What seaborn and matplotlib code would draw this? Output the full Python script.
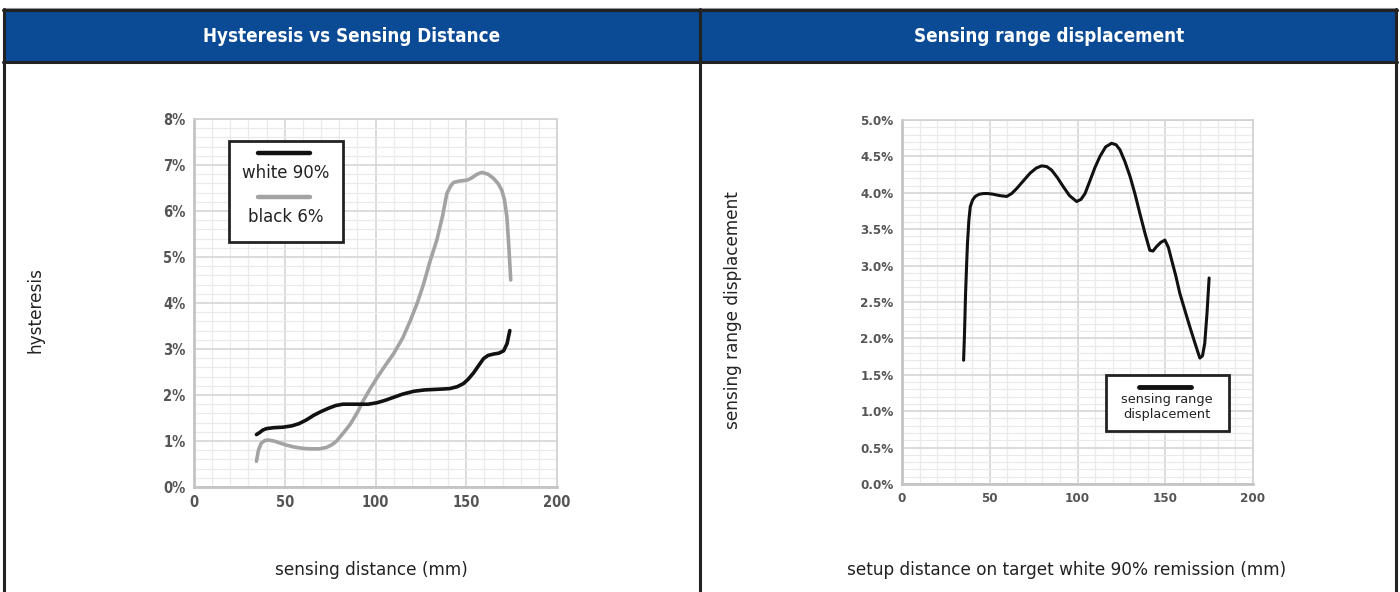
import numpy as np
import pandas as pd
import matplotlib
matplotlib.use("Agg")
import matplotlib.pyplot as plt
import seaborn as sns
from matplotlib.patches import Rectangle
from matplotlib.lines import Line2D
from matplotlib.ticker import MultipleLocator, FuncFormatter

# hysteresis vs sensing distance (mm, %)
white_x = [34.4, 36, 38, 40, 44, 49, 54, 58, 62, 66, 70, 74, 78, 82, 86, 91, 96, 100.6, 105, 110,
           115, 121, 127, 132, 137, 141, 145, 148.5, 151, 154, 157, 159.5, 162, 165, 168, 170.6, 172.5, 174]
white_y = [1.14, 1.18, 1.24, 1.27, 1.29, 1.30, 1.33, 1.38, 1.46, 1.56, 1.64, 1.71, 1.77, 1.80, 1.80, 1.80, 1.80, 1.83, 1.88, 1.95,
           2.02, 2.08, 2.11, 2.12, 2.13, 2.14, 2.18, 2.25, 2.34, 2.48, 2.65, 2.79, 2.86, 2.89, 2.91, 2.96, 3.12, 3.40]

black_x = [34.4, 35.5, 37, 39, 41, 44, 47, 51, 55, 60, 64, 69, 73, 76, 78.6, 82, 86, 90, 93, 97, 100.6,
           105, 110, 115, 119, 123, 126.4, 130, 133.8, 137, 139.3, 141.5, 143, 146, 150.4, 153, 156, 158.6,
           162, 165, 167.5, 169.6, 171, 172.4, 173.5, 174.5]
black_y = [0.56, 0.80, 0.95, 1.01, 1.02, 1.00, 0.96, 0.91, 0.87, 0.84, 0.83, 0.83, 0.86, 0.92, 1.00, 1.16, 1.36, 1.62, 1.86, 2.13, 2.36,
           2.62, 2.90, 3.24, 3.60, 4.00, 4.40, 4.90, 5.37, 5.90, 6.38, 6.55, 6.62, 6.65, 6.67, 6.72, 6.80, 6.84,
           6.80, 6.71, 6.60, 6.45, 6.25, 5.87, 5.20, 4.50]

# sensing range displacement vs setup distance (mm, %)
disp_x = [35.1, 35.6, 36.2, 36.8, 37.3, 38.1, 38.9, 40.2, 41.7, 44, 46.4, 49, 52, 56, 59.7, 62.5, 65.4, 69, 73, 76.5, 79.6,
          82.5, 85.3, 88.5, 92, 95.5, 99.5, 102, 104.3, 107, 110, 112.8, 116, 119.4, 122, 124.2, 127, 130,
          132.8, 135.5, 138.5, 141.2, 143, 145, 147.5, 149.8, 151.8, 153.6, 156, 158.3, 161, 164, 167, 169.7,
          171.2, 172.5, 173.8, 175]
disp_y = [1.70, 2.05, 2.60, 3.00, 3.30, 3.62, 3.81, 3.90, 3.95, 3.98, 3.99, 3.99, 3.98, 3.96, 3.95, 3.99, 4.06, 4.16, 4.27, 4.34, 4.37,
          4.36, 4.31, 4.21, 4.08, 3.96, 3.88, 3.91, 3.99, 4.16, 4.35, 4.50, 4.63, 4.68, 4.66, 4.59, 4.43, 4.22,
          3.98, 3.72, 3.44, 3.21, 3.20, 3.26, 3.32, 3.35, 3.25, 3.08, 2.86, 2.62, 2.40, 2.16, 1.93, 1.73,
          1.76, 1.93, 2.35, 2.83]

W, H = 1400, 592
sns.set_style("white")
plt.rcParams['font.family'] = ['DejaVu Sans']

fig = plt.figure(figsize=(W / 100, H / 100), dpi=100)
fig.patch.set_facecolor("white")


def fx(px):
    return px / W


def fy(py):
    return 1 - py / H


# table header and borders
blue = "#0b4a95"
dark = "#222222"
fig.patches.append(Rectangle((fx(4), fy(62)), fx(1392), 52 / H, transform=fig.transFigure,
                             facecolor=blue, edgecolor="none", zorder=0))
fig.lines.append(Line2D([fx(3), fx(1397)], [fy(7.5), fy(7.5)], transform=fig.transFigure, color="#9a9a9a", lw=0.8))
for y in (9.5, 62):
    fig.lines.append(Line2D([fx(3), fx(1397)], [fy(y), fy(y)], transform=fig.transFigure, color=dark, lw=2.2))
for x in (4, 700, 1396):
    fig.lines.append(Line2D([fx(x), fx(x)], [fy(9), fy(592)], transform=fig.transFigure, color=dark, lw=2.2))

fig.text(fx(352), fy(36), "Hysteresis vs Sensing Distance", color="white", fontsize=13.5,
         fontweight="bold", fontstretch="condensed", ha="center", va="center")
fig.text(fx(1049), fy(36), "Sensing range displacement", color="white", fontsize=13.5,
         fontweight="bold", fontstretch="condensed", ha="center", va="center")


def style_axes(ax, ymax, ymajor, yminor, fmt, tick_size):
    ax.set_xlim(0, 200)
    ax.set_ylim(0, ymax)
    ax.xaxis.set_major_locator(MultipleLocator(50))
    ax.xaxis.set_minor_locator(MultipleLocator(10))
    ax.yaxis.set_major_locator(MultipleLocator(ymajor))
    ax.yaxis.set_minor_locator(MultipleLocator(yminor))
    ax.yaxis.set_major_formatter(FuncFormatter(fmt))
    ax.grid(which="major", color="#d6d6d6", lw=1.2)
    ax.grid(which="minor", color="#eaeaea", lw=0.9)
    ax.set_axisbelow(True)
    for s in ax.spines.values():
        s.set_color("#d0d0d0")
        s.set_linewidth(1.2)
    for s in ("left", "bottom"):
        ax.spines[s].set_color("#c4c4c4")
        ax.spines[s].set_linewidth(2)
    ax.tick_params(which="both", length=0, labelsize=tick_size, labelcolor="#555555", pad=6)
    for lab in ax.get_xticklabels() + ax.get_yticklabels():
        lab.set_fontweight("bold")
        lab.set_fontstretch("condensed")
    ax.set_xlabel("")
    ax.set_ylabel("")


# left chart
ax1 = fig.add_axes([fx(194), fy(487), 363 / W, 368 / H])
df_white = pd.DataFrame({"x": white_x, "y": white_y})
df_black = pd.DataFrame({"x": black_x, "y": black_y})
sns.lineplot(data=df_black, x="x", y="y", ax=ax1, color="#a3a3a3", lw=2.6, sort=False)
sns.lineplot(data=df_white, x="x", y="y", ax=ax1, color="#111111", lw=2.6, sort=False)
style_axes(ax1, 8, 1, 0.2, lambda v, p: f"{v:.0f}%", 10.5)

ax1.add_patch(Rectangle((0.096, 0.666), 0.314, 0.274, transform=ax1.transAxes,
                        facecolor="white", edgecolor="#222222", lw=2, zorder=5))
ax1.add_line(Line2D([0.176, 0.32], [0.908, 0.908], transform=ax1.transAxes, color="#111111", lw=3.2, zorder=6))
ax1.text(0.253, 0.853, "white 90%", transform=ax1.transAxes, ha="center", va="center",
         fontsize=12, color="#222222", zorder=6)
ax1.add_line(Line2D([0.176, 0.32], [0.788, 0.788], transform=ax1.transAxes, color="#a3a3a3", lw=3.2, zorder=6))
ax1.text(0.253, 0.734, "black 6%", transform=ax1.transAxes, ha="center", va="center",
         fontsize=12, color="#222222", zorder=6)

fig.text(fx(35), fy(310), "hysteresis", rotation=90, ha="center", va="center", fontsize=12.2, color="#222222")
fig.text(fx(371), fy(570), "sensing distance (mm)", ha="center", va="center", fontsize=12.2, color="#222222")

# right chart
ax2 = fig.add_axes([fx(902), fy(484), 351 / W, 364 / H])
df_disp = pd.DataFrame({"x": disp_x, "y": disp_y})
sns.lineplot(data=df_disp, x="x", y="y", ax=ax2, color="#111111", lw=2.2, sort=False)
style_axes(ax2, 5, 0.5, 0.1, lambda v, p: f"{v:.1f}%", 9.5)

ax2.add_patch(Rectangle((0.581, 0.146), 0.351, 0.153, transform=ax2.transAxes,
                        facecolor="white", edgecolor="#222222", lw=2, zorder=5))
ax2.add_line(Line2D([0.675, 0.823], [0.266, 0.266], transform=ax2.transAxes, color="#111111", lw=3.5, zorder=6))
ax2.text(0.755, 0.231, "sensing range", transform=ax2.transAxes, ha="center", va="center",
         fontsize=9.3, color="#222222", zorder=6)
ax2.text(0.755, 0.192, "displacement", transform=ax2.transAxes, ha="center", va="center",
         fontsize=9.3, color="#222222", zorder=6)

fig.text(fx(733), fy(310), "sensing range displacement", rotation=90, ha="center", va="center",
         fontsize=12.2, color="#222222")
fig.text(fx(1067), fy(570), "setup distance on target white 90% remission (mm)", ha="center", va="center",
         fontsize=12.2, color="#222222")

fig.savefig("out.png", dpi=100)
